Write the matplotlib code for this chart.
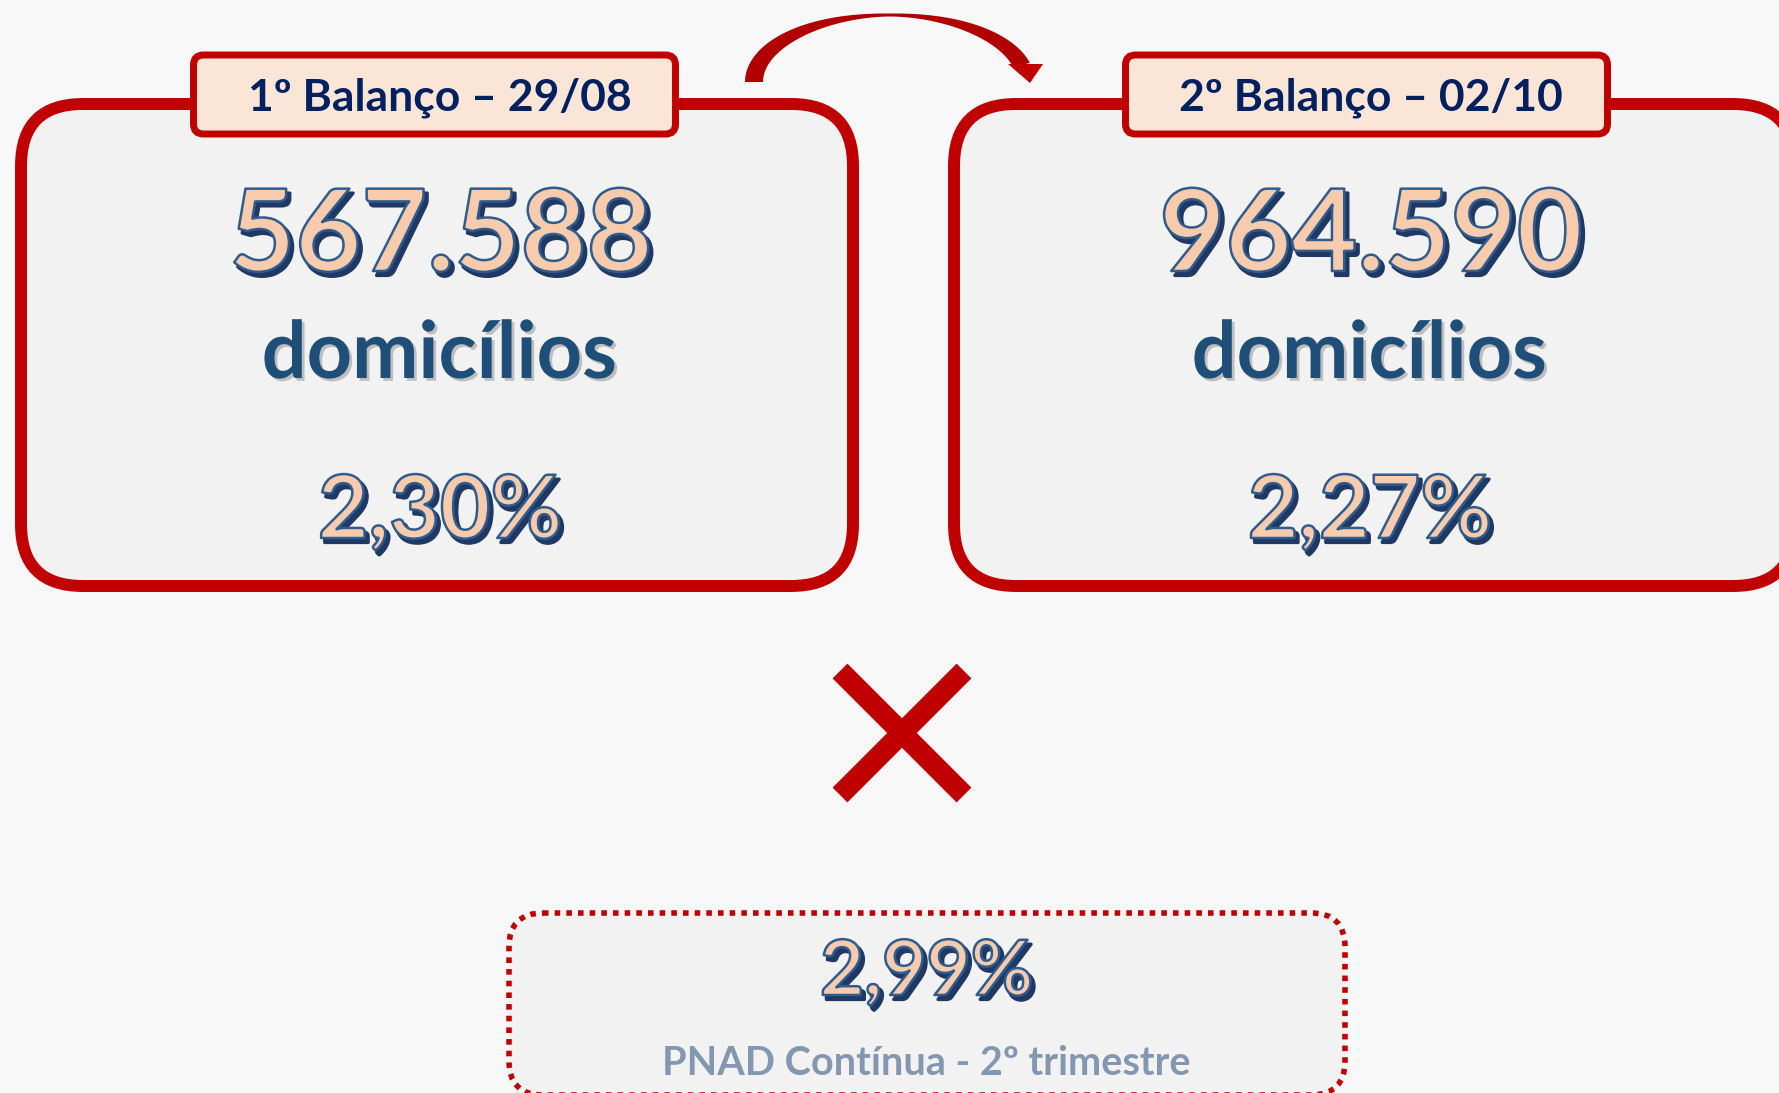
"""Balanço de domicílios: two counts vs PNAD Contínua rate (infographic)."""
import numpy as np
import matplotlib
matplotlib.use("Agg")
import matplotlib.pyplot as plt
import matplotlib.patheffects as pe
from matplotlib.patches import FancyBboxPatch, Polygon

W, H = 1779, 1093

titles = ["1º Balanço – 29/08", "2º Balanço – 02/10"]
households = ["567.588", "964.590"]
unit = "domicílios"
rates = ["2,30%", "2,27%"]
pnad_rate = "2,99%"
pnad_label = "PNAD Contínua - 2º trimestre"

RED = "#C00000"
NAVY = "#002060"
PEACH = "#F8CBAD"
DARK = "#203864"
FONT = "Lato"

fig = plt.figure(figsize=(W / 100, H / 100), dpi=100)
fig.patch.set_facecolor("#F8F8F8")
ax = fig.add_axes([0, 0, 1, 1])
ax.set_xlim(0, W)
ax.set_ylim(H, 0)
ax.axis("off")

num_fx = [pe.Stroke(offset=(2.6, -3.2), linewidth=2.4, foreground=DARK),
          pe.SimplePatchShadow(offset=(2.6, -3.2), shadow_rgbFace=DARK, alpha=1),
          pe.Stroke(linewidth=1.8, foreground="#2F5C8F")]
word_fx = [pe.SimplePatchShadow(offset=(2, -2), shadow_rgbFace="#7F7F7F", alpha=0.45),
           pe.Normal()]

# panels: (left, right) of the border centre line
panels = [(21, 853), (954, 1795)]
heads = [(193.5, 675.5), (1125.5, 1607.5)]
head_x = [439.5, 1371]
col_x = [441, 1371]

for i, ((x0, x1), (h0, h1)) in enumerate(zip(panels, heads)):
    ax.add_patch(FancyBboxPatch((x0, 104), x1 - x0, 482,
                                boxstyle="round,pad=0,rounding_size=62",
                                lw=8.6, ec=RED, fc="#F2F2F2", zorder=1))
    ax.add_patch(FancyBboxPatch((h0, 55), h1 - h0, 79,
                                boxstyle="round,pad=0,rounding_size=10",
                                lw=5, ec=RED, fc="#FBE5D6", zorder=2))
    ax.text(head_x[i], 110, titles[i], ha="center", va="baseline",
            fontsize=32, fontweight="bold", family=FONT, color=NAVY, zorder=3)
    ax.text(col_x[i], 271, households[i], ha="center", va="baseline",
            fontsize=82, fontweight="bold", family=FONT, color=PEACH,
            path_effects=num_fx, zorder=3)
    ax.text(col_x[i] - 2, 378, unit, ha="center", va="baseline",
            fontsize=57, fontweight="bold", family=FONT, color="#1F4E79",
            path_effects=word_fx, zorder=3)
    ax.text(col_x[i] - 1, 538, rates[i], ha="center", va="baseline",
            fontsize=63, fontweight="bold", family=FONT, color=PEACH,
            path_effects=num_fx, zorder=3)

# curved arrow between the two headers
cx, cy, a, b = 890, 82, 136, 67
t = np.linspace(np.pi, 0.256, 200)
w = 3 + 15 * np.abs(np.cos(t)) ** 1.5
outer = np.c_[cx + (a + w / 2) * np.cos(t), cy - (b + w / 2) * np.sin(t)]
inner = np.c_[cx + (a - w / 2) * np.cos(t), cy - (b - w / 2) * np.sin(t)]
ax.add_patch(Polygon(np.vstack([outer, inner[::-1]]), closed=True,
                     fc="#B00000", ec="none", zorder=2))
ax.add_patch(Polygon([[1008, 64], [1043, 64], [1030, 83]], closed=True,
                     fc=RED, ec="none", zorder=2))

# the cross
for ys in ([671, 795], [795, 671]):
    ax.plot([840, 964], ys, color=RED, lw=15.1, solid_capstyle="butt", zorder=2)

# dotted reference box
ax.add_patch(FancyBboxPatch((509, 913), 836, 182,
                            boxstyle="round,pad=0,rounding_size=34",
                            lw=4, ls=(0, (1, 1.1)), ec=RED, fc="#F2F2F2", zorder=1))
ax.text(926.5, 995, pnad_rate, ha="center", va="baseline",
        fontsize=55, fontweight="bold", family=FONT, color=PEACH,
        path_effects=num_fx, zorder=3)
ax.text(926.5, 1075, pnad_label, ha="center", va="baseline",
        fontsize=28.5, fontweight="bold", family=FONT, color="#8497B0", zorder=3)

fig.savefig("out.png", dpi=100, facecolor=fig.get_facecolor())
